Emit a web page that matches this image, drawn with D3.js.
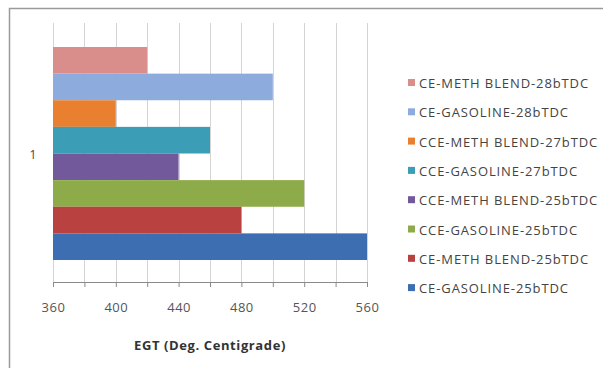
<!DOCTYPE html>
<html>
<head>
<meta charset="utf-8">
<script src="https://cdn.jsdelivr.net/npm/d3@7"></script>
<style>
  html, body { margin: 0; padding: 0; background: #fff; }
  svg { display: block; }
  text { font-family: "Open Sans", Lato, sans-serif; }
</style>
</head>
<body>
<svg id="chart" width="603" height="368"></svg>
<script>
// Series, listed from the top bar down
const seriesNames = [
  "CE-METH BLEND-28bTDC",
  "CE-GASOLINE-28bTDC",
  "CCE-METH BLEND-27bTDC",
  "CCE-GASOLINE-27bTDC",
  "CCE-METH BLEND-25bTDC",
  "CCE-GASOLINE-25bTDC",
  "CE-METH BLEND-25bTDC",
  "CE-GASOLINE-25bTDC"
];
const egtValues = [420, 500, 400, 460, 440, 520, 480, 560];
const seriesColors = ["#D98E8C", "#8DABDC", "#E8802F", "#3C9DB6", "#72599B", "#8EAB49", "#B9413F", "#3D6EB1"];
const category = "1";
const tickValues = [360, 400, 440, 480, 520, 560];
const gridValues = [360, 380, 400, 420, 440, 460, 480, 500, 520, 540, 560];
const axisTitle = "EGT (Deg. Centigrade)";

const svg = d3.select("#chart");

// Chart frame
svg.append("rect")
  .attr("x", 9.5).attr("y", 8.5)
  .attr("width", 620).attr("height", 400)
  .attr("fill", "#fff").attr("stroke", "#9a9a9a").attr("stroke-width", 1.5);

const x = d3.scaleLinear().domain([360, 560]).range([53, 367]);
const y = d3.scaleBand().domain(seriesNames).range([47, 260]).padding(0);

const plotTop = 23, plotBottom = 282;

// Vertical gridlines
svg.append("g").selectAll("line").data(gridValues).join("line")
  .attr("x1", d => Math.round(x(d)) + 0.5).attr("x2", d => Math.round(x(d)) + 0.5)
  .attr("y1", plotTop).attr("y2", plotBottom)
  .attr("stroke", "#d4d4d4").attr("stroke-width", 1);

// Bars
svg.append("g").selectAll("rect").data(seriesNames).join("rect")
  .attr("x", x(360))
  .attr("y", d => y(d))
  .attr("width", (d, i) => x(egtValues[i]) - x(360))
  .attr("height", y.bandwidth())
  .attr("fill", (d, i) => seriesColors[i]);

// Horizontal axis
const axis = d3.axisBottom(x).tickValues(gridValues).tickSize(5)
  .tickFormat(d => tickValues.includes(d) ? d : "");
const gAxis = svg.append("g").attr("transform", `translate(0,${plotBottom})`).call(axis);
gAxis.select(".domain").attr("stroke", "#8a8a8a");
gAxis.selectAll(".tick line").attr("stroke", "#8a8a8a");
gAxis.selectAll(".tick text")
  .attr("y", 21)
  .attr("fill", "#555")
  .style("font-size", "13px")
  .style("letter-spacing", "0.5px")
  .style("font-family", "'Open Sans', Lato, sans-serif");

// Axis title
svg.append("text")
  .attr("x", 210).attr("y", 350)
  .attr("text-anchor", "middle")
  .attr("fill", "#333")
  .style("font-size", "13px").style("font-weight", "bold")
  .style("letter-spacing", "0.6px")
  .text(axisTitle);

// Category label
svg.append("text")
  .attr("x", 33).attr("y", 159)
  .attr("text-anchor", "middle")
  .attr("fill", "#444")
  .style("font-size", "12px")
  .text(category);

// Legend
const legend = svg.append("g").selectAll("g").data(seriesNames).join("g")
  .attr("transform", (d, i) => `translate(408,${83 + i * 29.3})`);
legend.append("rect")
  .attr("x", 0).attr("y", -4).attr("width", 7).attr("height", 7)
  .attr("fill", (d, i) => seriesColors[i]);
legend.append("text")
  .attr("x", 11).attr("y", 5)
  .attr("fill", "#444")
  .style("font-size", "13px")
  .style("letter-spacing", "0.9px")
  .text(d => d);
</script>
</body>
</html>
